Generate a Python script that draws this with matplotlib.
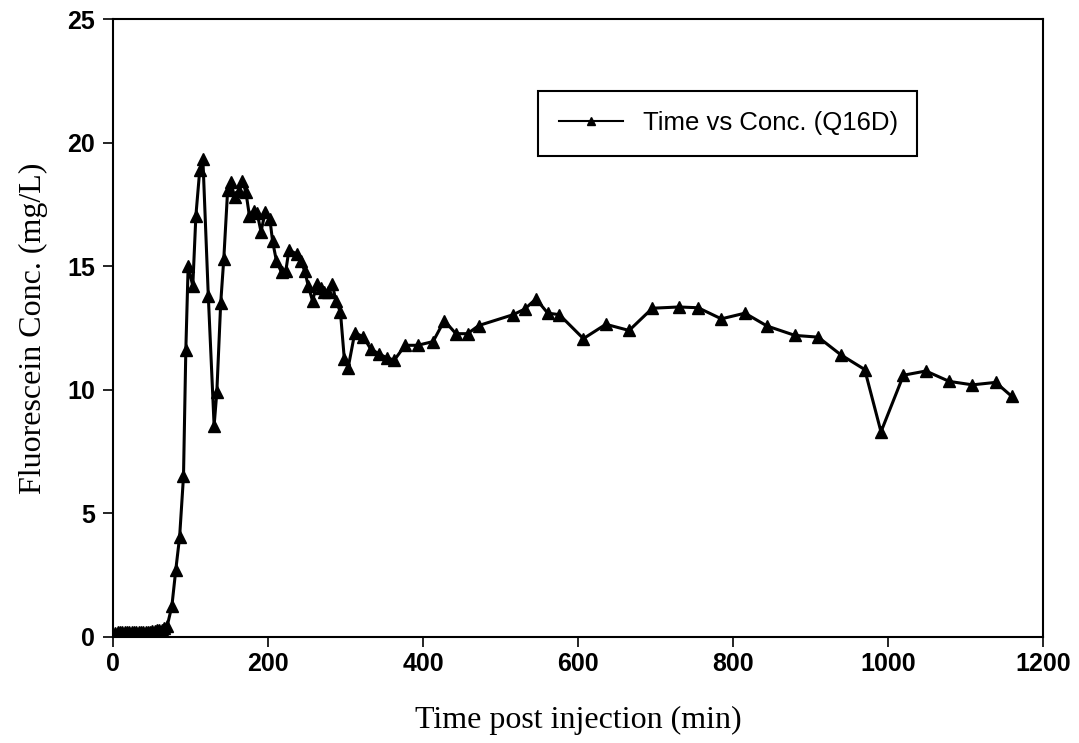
import matplotlib
matplotlib.use("Agg")
import matplotlib.pyplot as plt

# time post injection (min) and fluorescein concentration (mg/L)
time_min = [0, 3, 6, 9, 12, 15, 18, 21, 24, 27, 30, 33, 36, 39, 42, 45, 48, 51, 54, 57,
            60, 63, 66, 70, 76, 81, 86, 91, 94, 97, 103, 107, 112, 116, 123, 130.5, 134,
            139, 143, 148, 152, 157, 163, 167, 171.5, 176, 182, 186, 191, 196.5, 202.5,
            206, 211, 217.5, 223, 227, 237, 242.5, 247.5, 252, 257.5, 263.5, 268, 272,
            277, 283, 287.5, 293.5, 298.5, 303.5, 312, 323, 332.5, 343.5, 353, 363, 377,
            393, 413, 427.5, 442.5, 457.5, 472, 516.5, 531.5, 545.8, 561, 576, 607, 636,
            666, 696, 730, 755, 785, 815.5, 844, 880, 910, 939, 970, 991, 1020, 1049,
            1079, 1109, 1139, 1159.5]
conc = [0.1, 0.15, 0.2, 0.2, 0.2, 0.2, 0.2, 0.22, 0.2, 0.2, 0.22, 0.2, 0.22, 0.2, 0.22,
        0.2, 0.22, 0.25, 0.25, 0.28, 0.3, 0.3, 0.35, 0.45, 1.25, 2.7, 4.05, 6.5, 11.6,
        15.0, 14.2, 17.05, 18.9, 19.35, 13.8, 8.55, 9.9, 13.5, 15.3, 18.1, 18.4, 17.8,
        18.05, 18.45, 18.0, 17.05, 17.25, 17.15, 16.4, 17.2, 16.9, 16.0, 15.2, 14.75,
        14.8, 15.65, 15.5, 15.2, 14.8, 14.2, 13.6, 14.3, 14.1, 13.95, 13.95, 14.3, 13.6,
        13.15, 11.25, 10.9, 12.3, 12.15, 11.65, 11.45, 11.3, 11.2, 11.8, 11.8, 11.95,
        12.8, 12.27, 12.27, 12.6, 13.04, 13.27, 13.68, 13.1, 13.04, 12.07, 12.65, 12.4,
        13.3, 13.35, 13.32, 12.87, 13.1, 12.58, 12.2, 12.13, 11.42, 10.82, 8.3, 10.59,
        10.76, 10.34, 10.2, 10.3, 9.74]

x_ticks = [0, 200, 400, 600, 800, 1000, 1200]
y_ticks = [0, 5, 10, 15, 20, 25]

tick_font = dict(family=["Liberation Sans Narrow", "Liberation Sans"], weight="bold", size=18)
label_font = dict(family=["Liberation Serif", "DejaVu Serif"], size=23)

fig = plt.figure(figsize=(10.79, 7.43), dpi=100)
ax = fig.add_axes([0.1047, 0.1427, 0.8619, 0.8317])

ax.plot(time_min, conc, color="black", linewidth=2.2, marker="^", markersize=8,
        label="Time vs Conc. (Q16D)")

ax.set_xlim(0, 1200)
ax.set_ylim(0, 25)
ax.set_xticks(x_ticks)
ax.set_yticks(y_ticks)
ax.set_xticklabels([str(t) for t in x_ticks], fontdict=tick_font)
ax.set_yticklabels([str(t) for t in y_ticks], fontdict=tick_font)
ax.tick_params(direction="out", length=7, width=1.2, color="black", pad=6)
ax.tick_params(axis="x", pad=3.5)
for s in ax.spines.values():
    s.set_linewidth(1.5)

ax.set_xlabel("Time post injection (min)", fontdict=label_font, labelpad=22)
ax.set_ylabel("Fluorescein Conc. (mg/L)", fontdict=label_font, labelpad=14)

leg = ax.legend(loc="center", bbox_to_anchor=(0.457, 0.777, 0.4075, 0.108), mode="expand",
                borderaxespad=0, numpoints=1, handlelength=2.5, borderpad=0.8,
                fancybox=False, framealpha=1, edgecolor="black",
                prop=dict(family=["Liberation Sans", "DejaVu Sans"], size=18.5))
leg.get_frame().set_linewidth(1.5)
leg.legend_handles[0].set_markersize(6)
leg.legend_handles[0].set_linewidth(1.5)

fig.savefig("out.png", dpi=100)
